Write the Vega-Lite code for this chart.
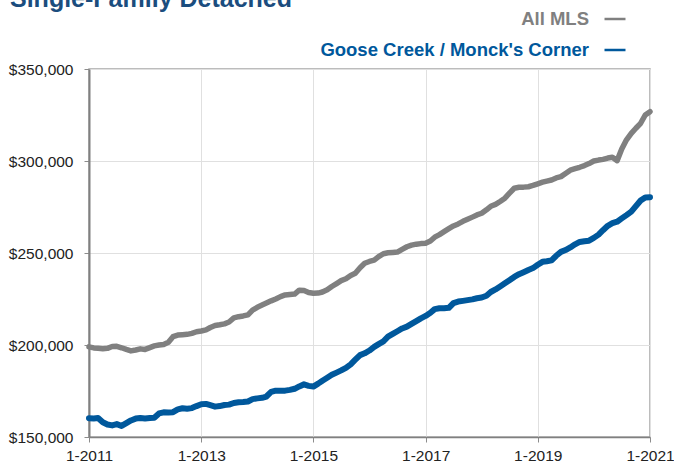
{
  "$schema": "https://vega.github.io/schema/vega-lite/v6.json",
  "width": 561,
  "height": 368,
  "autosize": "none",
  "padding": {"left": 89, "top": 69, "right": 24, "bottom": 29},
  "background": "white",
  "title": {"text": "Single-Family Detached", "anchor": "start", "frame": "group", "dx": -79, "dy": 26, "offset": 1, "baseline": "alphabetic", "fontSize": 25, "font": "Liberation Sans", "fontWeight": "bold", "color": "#1b4d7e"},
  "config": {
    "view": {"stroke": "#a6a6a6", "strokeWidth": 1.5},
    "axis": {"labelFont": "Liberation Sans", "labelFontSize": 15.5, "labelColor": "#222222", "gridColor": "#e0e0e0", "gridWidth": 1, "tickColor": "#8c8c8c", "tickSize": 5, "tickWidth": 1, "domainColor": "#808080"}
  },
  "datasets": {
    "mls": [
      {"date":"2011-01-01","price":199000},{"date":"2011-02-01","price":198400},{"date":"2011-03-01","price":198200},{"date":"2011-04-01","price":198000},{"date":"2011-05-01","price":198200},{"date":"2011-06-01","price":199200},{"date":"2011-07-01","price":199300},{"date":"2011-08-01","price":198500},{"date":"2011-09-01","price":197600},{"date":"2011-10-01","price":196800},{"date":"2011-11-01","price":197300},{"date":"2011-12-01","price":197900},
      {"date":"2012-01-01","price":197600},{"date":"2012-02-01","price":198600},{"date":"2012-03-01","price":199500},{"date":"2012-04-01","price":200000},{"date":"2012-05-01","price":200300},{"date":"2012-06-01","price":201500},{"date":"2012-07-01","price":204500},{"date":"2012-08-01","price":205400},{"date":"2012-09-01","price":205600},{"date":"2012-10-01","price":205800},{"date":"2012-11-01","price":206300},{"date":"2012-12-01","price":207200},
      {"date":"2013-01-01","price":207600},{"date":"2013-02-01","price":208200},{"date":"2013-03-01","price":209500},{"date":"2013-04-01","price":210600},{"date":"2013-05-01","price":211000},{"date":"2013-06-01","price":211500},{"date":"2013-07-01","price":212500},{"date":"2013-08-01","price":214700},{"date":"2013-09-01","price":215400},{"date":"2013-10-01","price":215800},{"date":"2013-11-01","price":216400},{"date":"2013-12-01","price":219000},
      {"date":"2014-01-01","price":220500},{"date":"2014-02-01","price":221700},{"date":"2014-03-01","price":222800},{"date":"2014-04-01","price":224000},{"date":"2014-05-01","price":225000},{"date":"2014-06-01","price":226300},{"date":"2014-07-01","price":227200},{"date":"2014-08-01","price":227500},{"date":"2014-09-01","price":227700},{"date":"2014-10-01","price":229800},{"date":"2014-11-01","price":229600},{"date":"2014-12-01","price":228500},
      {"date":"2015-01-01","price":228100},{"date":"2015-02-01","price":228200},{"date":"2015-03-01","price":228800},{"date":"2015-04-01","price":230000},{"date":"2015-05-01","price":231800},{"date":"2015-06-01","price":233400},{"date":"2015-07-01","price":235000},{"date":"2015-08-01","price":236000},{"date":"2015-09-01","price":237800},{"date":"2015-10-01","price":239000},{"date":"2015-11-01","price":242000},{"date":"2015-12-01","price":244400},
      {"date":"2016-01-01","price":245400},{"date":"2016-02-01","price":246100},{"date":"2016-03-01","price":248000},{"date":"2016-04-01","price":249600},{"date":"2016-05-01","price":250100},{"date":"2016-06-01","price":250300},{"date":"2016-07-01","price":250500},{"date":"2016-08-01","price":252000},{"date":"2016-09-01","price":253400},{"date":"2016-10-01","price":254300},{"date":"2016-11-01","price":254800},{"date":"2016-12-01","price":255100},
      {"date":"2017-01-01","price":255300},{"date":"2017-02-01","price":256500},{"date":"2017-03-01","price":258600},{"date":"2017-04-01","price":260000},{"date":"2017-05-01","price":261600},{"date":"2017-06-01","price":263200},{"date":"2017-07-01","price":264700},{"date":"2017-08-01","price":265800},{"date":"2017-09-01","price":267200},{"date":"2017-10-01","price":268300},{"date":"2017-11-01","price":269500},{"date":"2017-12-01","price":270700},
      {"date":"2018-01-01","price":271600},{"date":"2018-02-01","price":273500},{"date":"2018-03-01","price":275400},{"date":"2018-04-01","price":276400},{"date":"2018-05-01","price":278000},{"date":"2018-06-01","price":279800},{"date":"2018-07-01","price":282500},{"date":"2018-08-01","price":285200},{"date":"2018-09-01","price":285700},{"date":"2018-10-01","price":285800},{"date":"2018-11-01","price":286000},{"date":"2018-12-01","price":286700},
      {"date":"2019-01-01","price":287600},{"date":"2019-02-01","price":288500},{"date":"2019-03-01","price":289100},{"date":"2019-04-01","price":289700},{"date":"2019-05-01","price":290800},{"date":"2019-06-01","price":291500},{"date":"2019-07-01","price":293200},{"date":"2019-08-01","price":295000},{"date":"2019-09-01","price":295800},{"date":"2019-10-01","price":296600},{"date":"2019-11-01","price":297500},{"date":"2019-12-01","price":298600},
      {"date":"2020-01-01","price":300000},{"date":"2020-02-01","price":300500},{"date":"2020-03-01","price":300900},{"date":"2020-04-01","price":301600},{"date":"2020-05-01","price":302000},{"date":"2020-06-01","price":300200},{"date":"2020-07-01","price":306500},{"date":"2020-08-01","price":311500},{"date":"2020-09-01","price":315000},{"date":"2020-10-01","price":317800},{"date":"2020-11-01","price":320500},{"date":"2020-12-01","price":325000},
      {"date":"2021-01-01","price":326800}
    ],
    "gc": [
      {"date":"2011-01-01","price":160200},{"date":"2011-02-01","price":160100},{"date":"2011-03-01","price":160300},{"date":"2011-04-01","price":158000},{"date":"2011-05-01","price":156800},{"date":"2011-06-01","price":156300},{"date":"2011-07-01","price":157000},{"date":"2011-08-01","price":156000},{"date":"2011-09-01","price":157500},{"date":"2011-10-01","price":159000},{"date":"2011-11-01","price":160000},{"date":"2011-12-01","price":160300},
      {"date":"2012-01-01","price":160000},{"date":"2012-02-01","price":160300},{"date":"2012-03-01","price":160500},{"date":"2012-04-01","price":162800},{"date":"2012-05-01","price":163400},{"date":"2012-06-01","price":163300},{"date":"2012-07-01","price":163500},{"date":"2012-08-01","price":165000},{"date":"2012-09-01","price":165600},{"date":"2012-10-01","price":165400},{"date":"2012-11-01","price":165700},{"date":"2012-12-01","price":166800},
      {"date":"2013-01-01","price":167800},{"date":"2013-02-01","price":168000},{"date":"2013-03-01","price":167300},{"date":"2013-04-01","price":166500},{"date":"2013-05-01","price":166800},{"date":"2013-06-01","price":167400},{"date":"2013-07-01","price":167600},{"date":"2013-08-01","price":168500},{"date":"2013-09-01","price":168900},{"date":"2013-10-01","price":169000},{"date":"2013-11-01","price":169300},{"date":"2013-12-01","price":170600},
      {"date":"2014-01-01","price":171000},{"date":"2014-02-01","price":171300},{"date":"2014-03-01","price":172000},{"date":"2014-04-01","price":174500},{"date":"2014-05-01","price":175200},{"date":"2014-06-01","price":175100},{"date":"2014-07-01","price":175200},{"date":"2014-08-01","price":175600},{"date":"2014-09-01","price":176200},{"date":"2014-10-01","price":177500},{"date":"2014-11-01","price":178600},{"date":"2014-12-01","price":177800},
      {"date":"2015-01-01","price":177400},{"date":"2015-02-01","price":179000},{"date":"2015-03-01","price":180600},{"date":"2015-04-01","price":182200},{"date":"2015-05-01","price":183800},{"date":"2015-06-01","price":185000},{"date":"2015-07-01","price":186200},{"date":"2015-08-01","price":187600},{"date":"2015-09-01","price":189500},{"date":"2015-10-01","price":192000},{"date":"2015-11-01","price":194500},{"date":"2015-12-01","price":195500},
      {"date":"2016-01-01","price":197000},{"date":"2016-02-01","price":199000},{"date":"2016-03-01","price":200500},{"date":"2016-04-01","price":202000},{"date":"2016-05-01","price":204500},{"date":"2016-06-01","price":206000},{"date":"2016-07-01","price":207500},{"date":"2016-08-01","price":209000},{"date":"2016-09-01","price":210000},{"date":"2016-10-01","price":211500},{"date":"2016-11-01","price":213000},{"date":"2016-12-01","price":214500},
      {"date":"2017-01-01","price":215800},{"date":"2017-02-01","price":217500},{"date":"2017-03-01","price":219500},{"date":"2017-04-01","price":220000},{"date":"2017-05-01","price":220000},{"date":"2017-06-01","price":220200},{"date":"2017-07-01","price":222800},{"date":"2017-08-01","price":223600},{"date":"2017-09-01","price":224000},{"date":"2017-10-01","price":224400},{"date":"2017-11-01","price":224800},{"date":"2017-12-01","price":225400},
      {"date":"2018-01-01","price":225800},{"date":"2018-02-01","price":226800},{"date":"2018-03-01","price":228800},{"date":"2018-04-01","price":230200},{"date":"2018-05-01","price":231800},{"date":"2018-06-01","price":233500},{"date":"2018-07-01","price":235200},{"date":"2018-08-01","price":237000},{"date":"2018-09-01","price":238500},{"date":"2018-10-01","price":239600},{"date":"2018-11-01","price":240800},{"date":"2018-12-01","price":241800},
      {"date":"2019-01-01","price":243600},{"date":"2019-02-01","price":245200},{"date":"2019-03-01","price":245500},{"date":"2019-04-01","price":246000},{"date":"2019-05-01","price":248500},{"date":"2019-06-01","price":250600},{"date":"2019-07-01","price":251600},{"date":"2019-08-01","price":253000},{"date":"2019-09-01","price":254700},{"date":"2019-10-01","price":256000},{"date":"2019-11-01","price":256400},{"date":"2019-12-01","price":256700},
      {"date":"2020-01-01","price":258200},{"date":"2020-02-01","price":260000},{"date":"2020-03-01","price":262400},{"date":"2020-04-01","price":264800},{"date":"2020-05-01","price":266200},{"date":"2020-06-01","price":267000},{"date":"2020-07-01","price":268800},{"date":"2020-08-01","price":270600},{"date":"2020-09-01","price":272500},{"date":"2020-10-01","price":275500},{"date":"2020-11-01","price":278500},{"date":"2020-12-01","price":280200},
      {"date":"2021-01-01","price":280300}
    ]
  },
  "encoding": {
    "x": {
      "field": "date", "type": "temporal", "title": null,
      "scale": {"type": "utc", "domain": [{"year": 2011, "month": 1, "date": 1, "utc": true}, {"year": 2021, "month": 1, "date": 1, "utc": true}]},
      "axis": {
        "values": [{"year": 2011, "month": 1, "date": 1, "utc": true}, {"year": 2013, "month": 1, "date": 1, "utc": true}, {"year": 2015, "month": 1, "date": 1, "utc": true}, {"year": 2017, "month": 1, "date": 1, "utc": true}, {"year": 2019, "month": 1, "date": 1, "utc": true}, {"year": 2021, "month": 1, "date": 1, "utc": true}],
        "labelExpr": "'1-' + utcFormat(datum.value, '%Y')", "labelPadding": 6, "domainWidth": 1.5, "labelFlush": false, "labelOverlap": false
      }
    },
    "y": {
      "field": "price", "type": "quantitative", "title": null,
      "scale": {"domain": [150000, 350000], "nice": false, "zero": false},
      "axis": {"values": [150000, 200000, 250000, 300000, 350000], "format": "$,.0f", "labelPadding": 11, "domainWidth": 2}
    },
    "color": {
      "datum": "All MLS",
      "scale": {"domain": ["All MLS", "Goose Creek / Monck's Corner"], "range": ["#808080", "#00589c"]},
      "legend": {
        "title": null, "orient": "none", "legendX": 514, "legendY": -62, "direction": "vertical",
        "symbolType": "stroke", "symbolSize": 441, "symbolStrokeWidth": 2.5,
        "labelFont": "Liberation Sans", "labelFontSize": 18.5, "labelFontWeight": "bold",
        "labelAlign": "right", "labelOffset": -38, "rowPadding": 9, "labelLimit": 0, "padding": 0,
        "encode": {"labels": {"update": {"fill": {"signal": "datum.label == 'All MLS' ? '#808080' : '#00589c'"}}}}
      }
    }
  },
  "layer": [
    {"data": {"name": "mls"}, "mark": {"type": "line", "strokeWidth": 5.5, "strokeCap": "round", "strokeJoin": "round"}, "encoding": {"color": {"datum": "All MLS"}}},
    {"data": {"name": "gc"}, "mark": {"type": "line", "strokeWidth": 6, "strokeCap": "round", "strokeJoin": "round"}, "encoding": {"color": {"datum": "Goose Creek / Monck's Corner"}}}
  ]
}
